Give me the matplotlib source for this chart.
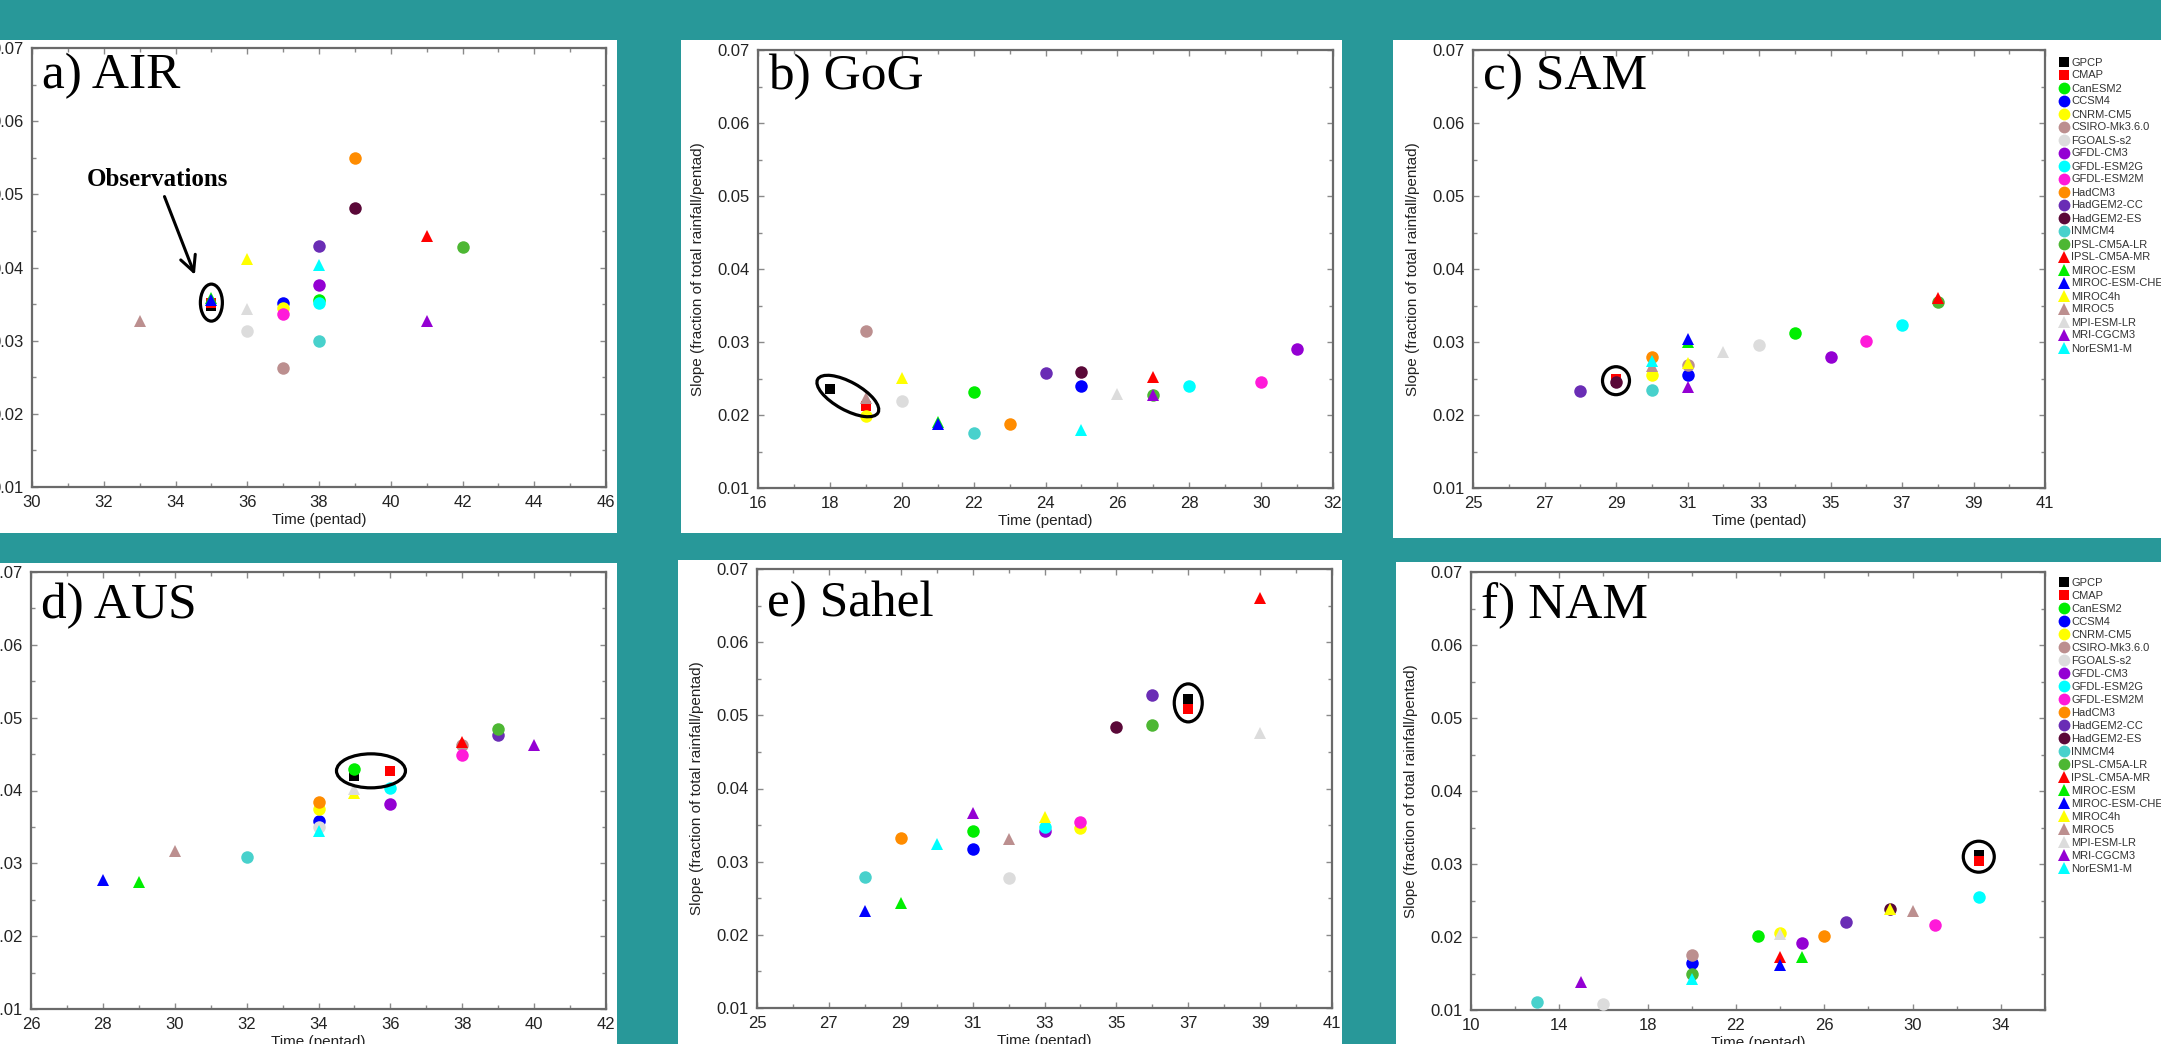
import numpy as np
import matplotlib
matplotlib.use("Agg")
import matplotlib.pyplot as plt
import matplotlib.transforms as mtransforms
from matplotlib.patches import Ellipse, Rectangle
from matplotlib.lines import Line2D

W, H, DPI = 2161, 1044, 100
TEAL = "#289899"
SANS = ["Liberation Sans", "DejaVu Sans"]
SERIF = ["Liberation Serif", "DejaVu Serif"]

MODELS = ["GPCP", "CMAP", "CanESM2", "CCSM4", "CNRM-CM5", "CSIRO-Mk3.6.0",
          "FGOALS-s2", "GFDL-CM3", "GFDL-ESM2G", "GFDL-ESM2M", "HadCM3",
          "HadGEM2-CC", "HadGEM2-ES", "INMCM4", "IPSL-CM5A-LR", "IPSL-CM5A-MR",
          "MIROC-ESM", "MIROC-ESM-CHEM", "MIROC4h", "MIROC5", "MPI-ESM-LR",
          "MRI-CGCM3", "NorESM1-M"]
COLORS = ["#000000", "#ff0000", "#00ee00", "#0000ff", "#ffff00", "#bc8f8f",
          "#dcdcdc", "#9400d3", "#00ffff", "#ff1ad9", "#ff8c00", "#6a2db5",
          "#5a0838", "#48d1cc", "#4db733", "#ff0000", "#00ee00", "#0000ff",
          "#ffff00", "#bc8f8f", "#dcdcdc", "#9400d3", "#00ffff"]
MARKERS = ["s"] * 2 + ["o"] * 13 + ["^"] * 8

nan = np.nan

# onset time (pentad) and slope for each model, same order as MODELS
AIR_X = [35, 35, 38, 37, 37, 37, 36, 38, 38, 37, 39, 38, 39, 38, 42, 41, 35, 35, 36, 33, 36, 41, 38]
AIR_Y = [0.0348, 0.0351, 0.0356, 0.0352, 0.0344, 0.0262, 0.0313, 0.0376, 0.0352, 0.0336, 0.0549, 0.0429,
         0.0481, 0.0300, 0.0428, 0.0443, 0.0358, 0.0355, 0.0412, 0.0327, 0.0343, 0.0327, 0.0403]

GOG_X = [18, 19, 22, 25, 19, 19, 20, 31, 28, 30, 23, 24, 25, 22, 27, 27, 21, 21, 20, 19, 26, 27, 25]
GOG_Y = [0.0235, 0.0213, 0.0232, 0.0240, 0.0198, 0.0315, 0.0219, 0.0290, 0.0240, 0.0245, 0.0187, 0.0257,
         0.0259, 0.0176, 0.0227, 0.0252, 0.0191, 0.0188, 0.0251, 0.0223, 0.0229, 0.0227, 0.0180]

SAM_X = [29, 29, 34, 31, 30, 31, 33, 35, 37, 36, 30, 28, 29, 30, 38, 38, 31, 31, 31, 30, 32, 31, 30]
SAM_Y = [0.0246, 0.0249, 0.0313, 0.0255, 0.0255, 0.0269, 0.0296, 0.0279, 0.0323, 0.0302, 0.0279, 0.0233,
         0.0245, 0.0234, 0.0355, 0.0360, 0.0300, 0.0304, 0.0271, 0.0267, 0.0286, 0.0238, 0.0274]

AUS_X = [35, 36, 35, 34, 34, 38, 34, 36, 36, 38, 34, 39, nan, 32, 39, 38, 29, 28, 35, 30, 35, 40, 34]
AUS_Y = [0.0420, 0.0427, 0.0430, 0.0358, 0.0374, 0.0462, 0.0350, 0.0382, 0.0404, 0.0449, 0.0384, 0.0476,
         nan, 0.0309, 0.0485, 0.0467, 0.0274, 0.0277, 0.0396, 0.0317, 0.0402, 0.0463, 0.0344]

SAHEL_X = [37, 37, 31, 31, 34, nan, 32, 33, 33, 34, 29, 36, 35, 28, 36, 39, 29, 28, 33, 32, 39, 31, 30]
SAHEL_Y = [0.0523, 0.0509, 0.0342, 0.0317, 0.0346, nan, 0.0278, 0.0342, 0.0347, 0.0354, 0.0333, 0.0528,
           0.0484, 0.0279, 0.0487, 0.0660, 0.0243, 0.0232, 0.0361, 0.0331, 0.0476, 0.0367, 0.0324]

NAM_X = [33, 33, 23, 20, 24, 20, 16, 25, 33, 31, 26, 27, 29, 13, 20, 24, 25, 24, 29, 30, 24, 15, 20]
NAM_Y = [0.0312, 0.0304, 0.0201, 0.0164, 0.0205, 0.0176, 0.0108, 0.0192, 0.0255, 0.0217, 0.0202, 0.0220,
         0.0239, 0.0111, 0.0149, 0.0173, 0.0173, 0.0162, 0.0239, 0.0236, 0.0204, 0.0138, 0.0143]

TITLES = ["a) AIR", "b) GoG", "c) SAM", "d) AUS", "e) Sahel", "f) NAM"]
XLIMS = [(30, 46), (16, 32), (25, 41), (26, 42), (25, 41), (10, 36)]
XTICKS = [np.arange(30, 47, 2), np.arange(16, 33, 2), np.arange(25, 42, 2),
          np.arange(26, 43, 2), np.arange(25, 42, 2), np.arange(10, 35, 4)]
XMINOR = [1, 1, 1, 1, 1, 2]

# observation ellipses: centre (data), size in pixels, angle
OBS_RINGS = [((35.0, 0.0352), 22, 37, 0), ((18.5, 0.0226), 69, 28, -29),
             ((29.0, 0.0247), 27, 28, 0), ((35.46, 0.0427), 69, 34, 0),
             ((37.0, 0.0517), 28, 38, 0), ((33.0, 0.0310), 31, 31, 0)]

# axes boxes in pixels: left, top, right, bottom
AX_BOXES = [(32, 48, 606, 487), (758, 50, 1333, 488), (1473, 50, 2045, 488),
            (31, 572, 606, 1009), (757, 569, 1332, 1008), (1471, 572, 2045, 1010)]
TITLE_DY = [-29, -28, -28, -33, -34, -33]

# teal gaps between the pasted panels
GAPS = [(0, 0, W, 40), (617, 40, 681, 533), (1342, 40, 1393, 538),
        (617, 533, 678, H), (1342, 538, 1396, H),
        (0, 533, 617, 563), (617, 533, 1342, 560), (1342, 538, W, 562)]


def px_rect(l, t, r, b):
    return [l / W, 1 - b / H, (r - l) / W, (b - t) / H]


def style_axes(ax, i):
    ax.set_xlim(*XLIMS[i])
    ax.set_ylim(0.01, 0.07)
    ax.set_xticks(XTICKS[i])
    ax.set_xticks(np.arange(XLIMS[i][0], XLIMS[i][1] + 0.1, XMINOR[i]), minor=True)
    ax.set_yticks(np.arange(0.01, 0.0701, 0.01))
    ax.set_yticks(np.arange(0.01, 0.0701, 0.005), minor=True)
    ax.set_yticklabels([f"{v:.2f}" for v in np.arange(0.01, 0.0701, 0.01)])
    ax.tick_params(which="both", direction="in", top=True, right=True,
                   color="#8a8a8a", labelsize=12, labelcolor="#222222")
    ax.tick_params(which="major", length=4.5, width=1, pad=6)
    ax.tick_params(which="minor", length=3, width=1)
    for lab in ax.get_xticklabels() + ax.get_yticklabels():
        lab.set_family(SANS)
    for sp in ax.spines.values():
        sp.set_color("#6a6a6a")
        sp.set_linewidth(1.6)
    ax.set_xlabel("Time (pentad)", fontsize=11, family=SANS, color="#222222")
    ax.set_ylabel("Slope (fraction of total rainfall/pentad)", fontsize=11,
                  family=SANS, color="#222222")
    h = AX_BOXES[i][3] - AX_BOXES[i][1]
    w = AX_BOXES[i][2] - AX_BOXES[i][0]
    ax.xaxis.set_label_coords(0.5, -26 / h)
    ax.yaxis.set_label_coords(-53 / w, 0.5)


fig = plt.figure(figsize=(W / DPI, H / DPI), dpi=DPI, facecolor="white")

panel_data = [(AIR_X, AIR_Y), (GOG_X, GOG_Y), (SAM_X, SAM_Y),
              (AUS_X, AUS_Y), (SAHEL_X, SAHEL_Y), (NAM_X, NAM_Y)]

axes = []
for i, (xs, ys) in enumerate(panel_data):
    ax = fig.add_axes(px_rect(*AX_BOXES[i]))
    style_axes(ax, i)
    for x, y, c, m in zip(xs, ys, COLORS, MARKERS):
        ms = 7.5 if m == "s" else 9
        ax.plot([x], [y], ls="none", marker=m, color=c, markersize=ms,
                markeredgewidth=0, clip_on=False, zorder=3)

    ax.annotate(TITLES[i], xy=(0, 1), xycoords="axes fraction", xytext=(7, TITLE_DY[i]),
                textcoords="offset points", ha="left", va="baseline",
                fontsize=37, family=SERIF)

    (cx, cy), ew, eh, ang = OBS_RINGS[i]
    trans = fig.dpi_scale_trans + mtransforms.ScaledTranslation(cx, cy, ax.transData)
    ax.add_patch(Ellipse((0, 0), ew / DPI, eh / DPI, angle=ang, transform=trans,
                         fill=False, ec="black", lw=2.3, zorder=5))
    axes.append(ax)

axes[0].annotate("Observations", xy=(34.54, 0.0390), xytext=(33.51, 0.0520),
                 ha="center", va="center", fontsize=18, fontweight="bold",
                 family=SERIF,
                 arrowprops=dict(arrowstyle="->", lw=2.2, color="black",
                                 mutation_scale=28, shrinkA=2, shrinkB=0))

handles = [Line2D([], [], ls="none", marker=m, color=c, markersize=7.5 if m == "s" else 8.5,
                  markeredgewidth=0) for c, m in zip(COLORS, MARKERS)]
for i, top_px in ((2, 57.5), (5, 578)):
    l, t, r, b = AX_BOXES[i]
    leg = axes[i].legend(handles, MODELS, loc="upper left",
                         bbox_to_anchor=((2060 - l) / (r - l), 1 - (top_px - t) / (b - t)),
                         frameon=False, prop={"family": SANS, "size": 8},
                         handlelength=0.8, handletextpad=0.2, labelspacing=0.27,
                         borderpad=0, borderaxespad=0)
    for txt in leg.get_texts():
        txt.set_color("#333333")

for g in GAPS:
    l, t, r, b = g
    fig.add_artist(Rectangle((l / W, 1 - b / H), (r - l) / W, (b - t) / H,
                             transform=fig.transFigure, facecolor=TEAL,
                             edgecolor="none", zorder=20))

fig.savefig("out.png", dpi=DPI, facecolor="white")
